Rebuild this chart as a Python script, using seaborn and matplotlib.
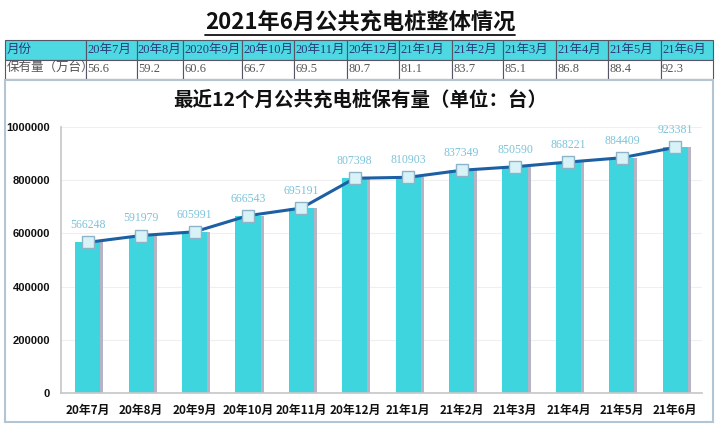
import matplotlib
matplotlib.use("Agg")
import matplotlib.pyplot as plt
import seaborn as sns
import numpy as np
import pandas as pd
from matplotlib.patches import Rectangle
from matplotlib.lines import Line2D
import matplotlib.transforms as mtransforms

# ---- data ----
table_header = ["月份", "20年7月", "20年8月", "2020年9月", "20年10月", "20年11月", "20年12月",
                "21年1月", "21年2月", "21年3月", "21年4月", "21年5月", "21年6月"]
table_row_label = "保有量（万台）"
table_values = ["56.6", "59.2", "60.6", "66.7", "69.5", "80.7", "81.1", "83.7", "85.1", "86.8", "88.4", "92.3"]

months = ["20年7月", "20年8月", "20年9月", "20年10月", "20年11月", "20年12月",
          "21年1月", "21年2月", "21年3月", "21年4月", "21年5月", "21年6月"]
counts = [566248, 591979, 605991, 666543, 695191, 807398, 810903, 837349, 850590, 868221, 884409, 923381]
y_ticks = [0, 200000, 400000, 600000, 800000, 1000000]

main_title = "2021年6月公共充电桩整体情况"
chart_title = "最近12个月公共充电桩保有量（单位：台）"

sns.set_theme(style="white")
plt.rcParams['font.family'] = ['Liberation Sans', 'Noto Sans CJK SC', 'DejaVu Sans']

W, H = 720, 425
fig = plt.figure(figsize=(7.2, 4.25), dpi=100)

def fx(px):
    return px / W
def fy(py):
    return 1 - py / H

# ---- main title with underline ----
t = fig.text(0.5, fy(22), main_title, ha="center", va="center", fontsize=16, fontweight="bold",
             family=['Noto Sans CJK SC', 'DejaVu Sans'], color="#111111")

# ---- table ----
tab_ax = fig.add_axes([fx(5), fy(79), fx(708), 39 / H])
tab_ax.axis("off")
col_w = np.array([81, 51, 46, 59, 52, 53, 52, 53, 51, 53, 52, 53, 52], dtype=float)
col_w = col_w / col_w.sum()
cell_text = [table_header, [table_row_label] + table_values]
tbl = tab_ax.table(cellText=cell_text, colWidths=list(col_w), bbox=[0, 0, 1, 1], cellLoc="left")
tbl.auto_set_font_size(False)
for (r, c), cell in tbl.get_celld().items():
    cell.set_edgecolor("#555566")
    cell.set_linewidth(0.8)
    cell.PAD = 0.02
    txt = cell.get_text()
    txt.set_fontsize(9)
    txt.set_family(['Liberation Serif', 'Noto Sans CJK SC'])
    if r == 0:
        cell.set_facecolor("#4ed8e2")
        txt.set_color("#2a3a7a")
    else:
        cell.set_facecolor("white")
        txt.set_color("#555555")

# ---- chart box ----
fig.add_artist(Rectangle((fx(5), fy(422)), fx(708), (422 - 80) / H, transform=fig.transFigure,
                         fill=False, edgecolor="#b3c4d2", linewidth=1.5))
fig.text(0.5, fy(100), chart_title, ha="center", va="center", fontsize=14, fontweight="bold",
         family=['Noto Sans CJK SC', 'DejaVu Sans'], color="#111111")

# ---- chart ----
ax = fig.add_axes([fx(61), fy(393), fx(702 - 61), (393 - 127) / H])
df = pd.DataFrame({"month": months, "count": counts})

# shadow bars (slightly offset to the right, like the 3D edge)
sns.barplot(data=df, x="month", y="count", color="#b4b4c6", width=0.48, saturation=1, ax=ax)
n_shadow = len(ax.patches)
offset = mtransforms.ScaledTranslation(2.0 / 72, 0, fig.dpi_scale_trans)
for p in ax.patches[:n_shadow]:
    p.set_transform(ax.transData + offset)
    p.set_edgecolor("none")
# main bars
sns.barplot(data=df, x="month", y="count", color="#3fd5df", width=0.47, saturation=1, ax=ax)
for p in ax.patches[n_shadow:]:
    p.set_edgecolor("none")

# line with square markers
sns.pointplot(data=df, x="month", y="count", color="#1d5fa3", markers="s", linestyles="-",
              ax=ax, errorbar=None)
for ln in ax.lines:
    ln.set_linewidth(2.2)
    ln.set_markersize(9)
    ln.set_markerfacecolor("#d8f3f8")
    ln.set_markeredgecolor("#8fb4c8")
    ln.set_markeredgewidth(1.0)
    ln.set_zorder(5)

for i, v in enumerate(counts):
    ax.annotate(str(v), (i, v), xytext=(0, 8), textcoords="offset points", ha="center", va="bottom",
                fontsize=8.5, color="#7cc3d9", family=['Liberation Serif'], zorder=6)

ax.set_ylim(0, 1000000)
ax.set_xlim(-0.5, len(months) - 0.5)
ax.set_yticks(y_ticks)
ax.set_yticklabels([str(v) for v in y_ticks], fontsize=8, fontweight="bold", color="#111111")
ax.set_xticks(range(len(months)))
ax.set_xticklabels(months, fontsize=8.5, fontweight="bold", color="#111111",
                   family=['Noto Sans CJK SC', 'DejaVu Sans'])
ax.set_xlabel("")
ax.set_ylabel("")
ax.tick_params(axis="both", length=0, pad=8)
ax.yaxis.grid(True, color="#efefef", linewidth=0.8)
ax.set_axisbelow(True)
for side in ["top", "right"]:
    ax.spines[side].set_visible(False)
ax.spines["left"].set_color("#c8c8c8")
ax.spines["bottom"].set_color("#c8c8c8")

# underline for main title
fig.canvas.draw()
bb = t.get_window_extent().transformed(fig.transFigure.inverted())
fig.add_artist(Line2D([bb.x0, bb.x1], [bb.y0 - 0.004, bb.y0 - 0.004], transform=fig.transFigure,
                      color="#111111", linewidth=1.3))

fig.savefig("out.png", dpi=100)
